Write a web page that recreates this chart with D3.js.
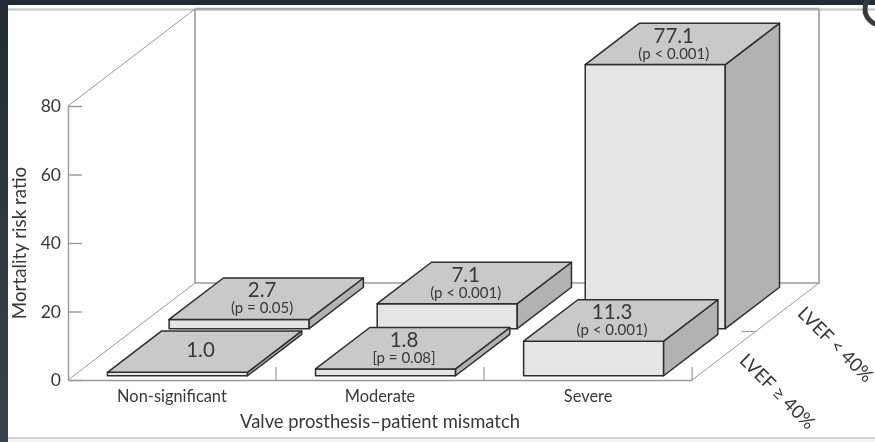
<!DOCTYPE html>
<html lang="en">
<head>
    <meta charset="UTF-8">
    <title>Mortality risk ratio</title>
    <script src="https://cdnjs.cloudflare.com/ajax/libs/d3/7.8.5/d3.min.js"></script>
    <style>
        html, body { margin: 0; padding: 0; background: #fff; }
        svg { display: block; filter: blur(0.6px); }
        text { font-family: Lato, sans-serif; fill: #383838; }
    </style>
</head>
<body>
<svg width="875" height="442"></svg>

<script>
    var categories = ['Non-significant', 'Moderate', 'Severe'];
    var rows = ['LVEF ≥ 40%', 'LVEF < 40%'];
    var yTicks = [0, 20, 40, 60, 80];

    // bar heights (the 11.3 bar is drawn lower than its label says)
    var frontValues = [1.0, 2.0, 10.1];
    var backValues = [2.7, 7.3, 77.1];

    // printed labels
    var frontLabels = ['1.0', '1.8', '11.3'];
    var backLabels = ['2.7', '7.1', '77.1'];
    var frontP = ['', '[p = 0.08]', '(p < 0.001)'];
    var backP = ['(p = 0.05)', '(p < 0.001)', '(p < 0.001)'];

    var svg = d3.select('svg');

    // page surround
    var defs = svg.append('defs');
    var grad = defs.append('linearGradient').attr('id', 'edge').attr('x1', 0).attr('x2', 0).attr('y1', 0).attr('y2', 1);
    grad.append('stop').attr('offset', '0%').attr('stop-color', '#232c36');
    grad.append('stop').attr('offset', '100%').attr('stop-color', '#37434f');
    svg.append('rect').attr('width', 8).attr('height', 442).attr('fill', 'url(#edge)');
    svg.append('rect').attr('width', 875).attr('height', 5).attr('fill', '#232c36');
    svg.append('rect').attr('x', 8).attr('y', 439).attr('width', 867).attr('height', 3).attr('fill', '#f2f2f2');
    svg.append('line').attr('x1', 8).attr('x2', 875).attr('y1', 9.5).attr('y2', 9.5).attr('stroke', '#c4c4c4').attr('stroke-width', 2);
    svg.append('line').attr('x1', 8).attr('x2', 875).attr('y1', 438).attr('y2', 438).attr('stroke', '#c8c8c8').attr('stroke-width', 1.5);
    svg.append('circle').attr('cx', 881).attr('cy', 9).attr('r', 16).attr('fill', 'none').attr('stroke', '#3a3a3a').attr('stroke-width', 5);

    var left = 68, right = 692, floorY = 380;
    var depthX = 127, depthY = 97;

    var xScale = d3.scaleBand().domain(categories).range([left, right]).paddingInner(0.327).paddingOuter(0.163);
    var yScale = d3.scaleLinear().domain([0, 80]).range([floorY, 106]);
    var zScale = d3.scaleBand().domain(rows).range([0, 1]).paddingInner(0.12).paddingOuter(0.09);

    // x in pixels on the front plane, z 0..1 into the picture, v on the y axis
    function project(x, z, v) {
        return [x + z * depthX, yScale(v) - z * depthY];
    }

    var lineColor = '#9a9a9a';
    var walls = svg.append('g').attr('fill', 'none').attr('stroke', lineColor);
    var top80 = yScale(80);
    var backPt = project(left, 1, 0), backTop = project(left, 1, 80);
    var rightPt = project(right, 1, 0), rightTop = project(right, 1, 80);

    walls.append('path').attr('stroke-width', 1.6)
        .attr('d', d3.line()([[backTop[0], backTop[1]], [backPt[0], backPt[1]], [rightPt[0], rightPt[1]], [rightTop[0], rightTop[1]]]));
    walls.append('path').attr('stroke-width', 2.4).attr('stroke', '#a8a8a8').attr('d', d3.line()([backTop, rightTop]));
    walls.append('path').attr('stroke-width', 1).attr('d', d3.line()([[left, top80], backTop]));
    walls.append('path').attr('stroke-width', 1).attr('d', d3.line()([[left, floorY], backPt]));
    walls.append('path').attr('stroke-width', 1).attr('d', d3.line()([[right, floorY], rightPt]));

    // y axis
    var yAxis = d3.axisLeft(yScale).tickValues(yTicks).tickSizeInner(-14).tickSizeOuter(0).tickPadding(7);
    var gy = svg.append('g').attr('transform', 'translate(' + left + ',0)').call(yAxis);
    gy.selectAll('path, line').attr('stroke', lineColor).attr('stroke-width', 1.4);
    gy.selectAll('text').style('font-size', '17.5px').style('font-family', 'Lato, sans-serif').attr('fill', '#383838');

    // x axis
    var xAxis = d3.axisBottom(xScale).tickSize(0).tickPadding(10);
    var gx = svg.append('g').attr('transform', 'translate(0,' + floorY + ')').call(xAxis);
    gx.select('path').attr('stroke', lineColor).attr('stroke-width', 1.6);
    gx.selectAll('text').style('font-size', '16.4px').style('font-family', 'Lato, sans-serif').attr('fill', '#383838');

    // category separators and the row separator
    svg.append('g').selectAll('line').data(categories).enter().append('line')
        .attr('x1', function (d) { return xScale(d) + xScale.bandwidth() + xScale.step() * 0.1635; })
        .attr('x2', function (d) { return xScale(d) + xScale.bandwidth() + xScale.step() * 0.1635; })
        .attr('y1', floorY).attr('y2', floorY - 13)
        .attr('stroke', lineColor).attr('stroke-width', 1.2);
    var midRow = project(right, 0.5, 0);
    svg.append('line').attr('x1', midRow[0]).attr('x2', midRow[0] - 14).attr('y1', midRow[1]).attr('y2', midRow[1])
        .attr('stroke', lineColor).attr('stroke-width', 1.2);

    function drawRow(row, values, labels, pLabels) {
        var g = svg.append('g');
        categories.forEach(function (cat, i) {
            var x0 = xScale(cat), x1 = x0 + xScale.bandwidth();
            var z0 = zScale(row), z1 = z0 + zScale.bandwidth();
            var v = values[i];

            var faces = [
                {fill: '#e5e5e5', pts: [project(x0, z0, 0), project(x1, z0, 0), project(x1, z0, v), project(x0, z0, v)]},
                {fill: '#b2b2b2', pts: [project(x1, z0, 0), project(x1, z1, 0), project(x1, z1, v), project(x1, z0, v)]},
                {fill: '#c9c9c9', pts: [project(x0, z0, v), project(x1, z0, v), project(x1, z1, v), project(x0, z1, v)]}
            ];
            g.selectAll(null).data(faces).enter().append('path')
                .attr('d', function (d) { return d3.line()(d.pts) + 'Z'; })
                .attr('fill', function (d) { return d.fill; })
                .attr('stroke', '#2e2e2e').attr('stroke-width', 1.5).attr('stroke-linejoin', 'round');

            var frontTop = project((x0 + x1) / 2, z0, v);
            var tx = frontTop[0] + (i === 0 ? 23 : 18.5);
            g.append('text').attr('x', tx).attr('y', frontTop[1] - (pLabels[i] ? 22 : 15))
                .attr('text-anchor', 'middle').style('font-size', '20.5px').text(labels[i]);
            if (pLabels[i]) {
                g.append('text').attr('x', tx).attr('y', frontTop[1] - 6)
                    .attr('text-anchor', 'middle').style('font-size', '15px').text(pLabels[i]);
            }
        });
    }

    drawRow(rows[1], backValues, backLabels, backP);
    drawRow(rows[0], frontValues, frontLabels, frontP);

    // axis titles
    svg.append('text').attr('x', 380).attr('y', 428).attr('text-anchor', 'middle')
        .style('font-size', '18.4px').text('Valve prosthesis–patient mismatch');
    svg.append('text').attr('transform', 'translate(26,243) rotate(-90)').attr('text-anchor', 'middle')
        .style('font-size', '18.8px').text('Mortality risk ratio');

    // row names along the depth axis
    svg.selectAll('.rowLabel').data(rows).enter().append('text')
        .attr('class', 'rowLabel')
        .attr('transform', function (d, i) {
            var p = i === 0 ? [773, 396] : [831, 349];
            return 'translate(' + p[0] + ',' + p[1] + ') rotate(45)';
        })
        .attr('text-anchor', 'middle').style('font-size', '18.5px')
        .text(function (d) { return d; });
</script>
</body>
</html>
